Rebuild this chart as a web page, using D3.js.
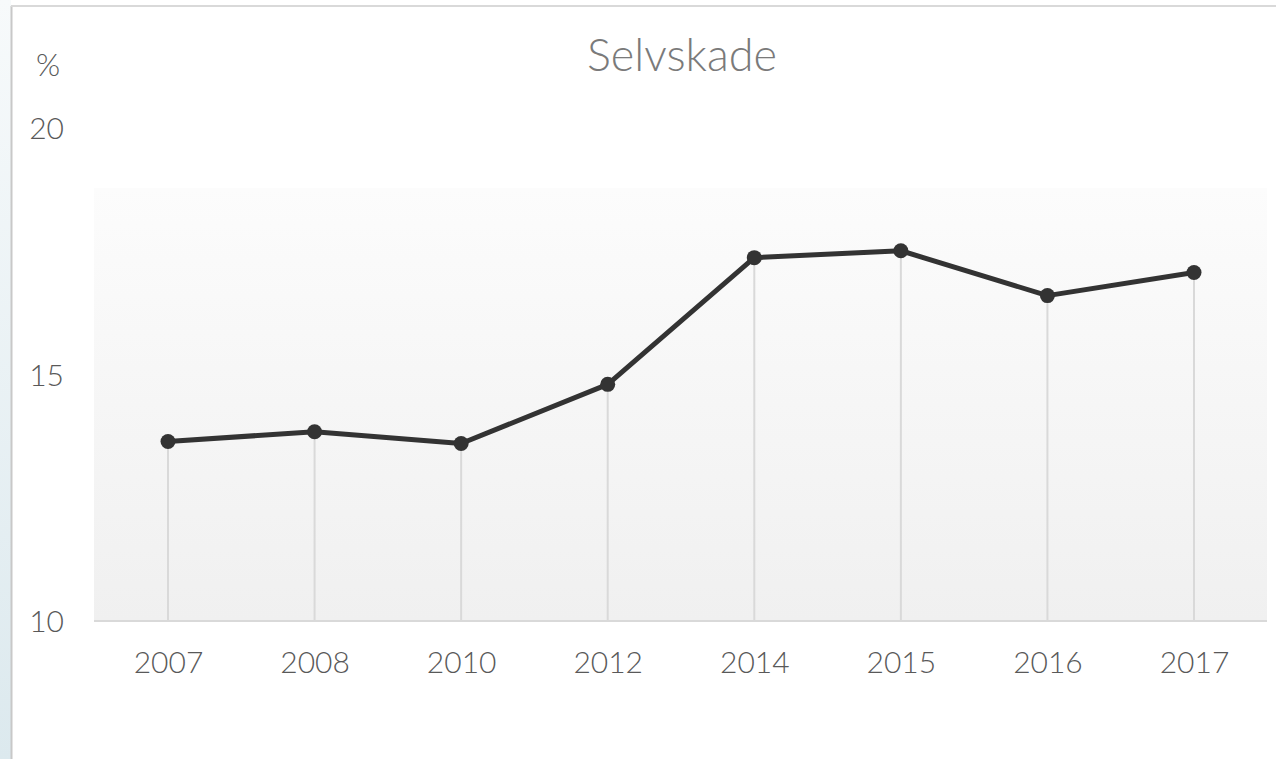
<!DOCTYPE html>
<meta charset="utf-8">
<style>
  body { margin: 0; background: #fff; }
  svg { display: block; font-family: 'Lato', 'Open Sans', sans-serif; }
  .tick text { fill: #595959; font-size: 30px; font-weight: 300; font-family: 'Lato', 'Open Sans', sans-serif; }
  .domain { display: none; }
  .tick line { display: none; }
</style>
<script src="https://d3js.org/d3.v7.min.js"></script>
<div id="chart"></div>
<script>
  // data
  const years = ["2007", "2008", "2010", "2012", "2014", "2015", "2016", "2017"];
  const values = [13.64, 13.84, 13.6, 14.8, 17.37, 17.51, 16.6, 17.07];
  const yTicks = [10, 15, 20];

  const W = 1276, H = 759;
  const svg = d3.select("#chart").append("svg")
    .attr("width", W).attr("height", H);

  const defs = svg.append("defs");
  const side = defs.append("linearGradient").attr("id", "side")
    .attr("x1", 0).attr("y1", 0).attr("x2", 0).attr("y2", 1);
  side.append("stop").attr("offset", "0%").attr("stop-color", "#f7fafb");
  side.append("stop").attr("offset", "100%").attr("stop-color", "#dce9ee");

  const plotBg = defs.append("linearGradient").attr("id", "plotBg")
    .attr("x1", 0).attr("y1", 0).attr("x2", 0).attr("y2", 1);
  plotBg.append("stop").attr("offset", "0%").attr("stop-color", "#fcfcfc");
  plotBg.append("stop").attr("offset", "100%").attr("stop-color", "#f0f0f0");

  // outer frame
  svg.append("rect").attr("x", 0).attr("y", 0).attr("width", 11).attr("height", H)
    .attr("fill", "url(#side)");
  svg.append("line").attr("x1", 11.5).attr("x2", 11.5).attr("y1", 6).attr("y2", H)
    .attr("stroke", "#c8c8c8").attr("stroke-width", 2);
  svg.append("line").attr("x1", 11).attr("x2", W).attr("y1", 6).attr("y2", 6)
    .attr("stroke", "#d9d9d9").attr("stroke-width", 2);

  const x = d3.scalePoint().domain(years).range([168, 1194]);
  const y = d3.scaleLinear().domain([10, 20]).range([621, 128]);

  // plot background
  svg.append("rect").attr("x", 94).attr("y", 188)
    .attr("width", 1267 - 94).attr("height", 621 - 188)
    .attr("fill", "url(#plotBg)");

  // drop lines
  svg.append("g").selectAll("line").data(values).join("line")
    .attr("x1", (d, i) => x(years[i])).attr("x2", (d, i) => x(years[i]))
    .attr("y1", d => y(d)).attr("y2", y(10))
    .attr("stroke", "#d9d9d9").attr("stroke-width", 2);

  // x axis baseline
  svg.append("line").attr("x1", 94).attr("x2", 1267)
    .attr("y1", y(10)).attr("y2", y(10))
    .attr("stroke", "#d9d9d9").attr("stroke-width", 2);

  // axes (labels only)
  svg.append("g").attr("transform", `translate(0,${y(10) + 41})`)
    .call(d3.axisBottom(x).tickSize(0).tickPadding(0))
    .selectAll("text").attr("dy", "0.35em");

  svg.append("g").attr("transform", "translate(64,0)")
    .call(d3.axisLeft(y).tickValues(yTicks).tickSize(0).tickPadding(0))
    .selectAll("text").attr("dy", "0.35em");

  // line + markers
  const line = d3.line().x((d, i) => x(years[i])).y(d => y(d));
  svg.append("path").datum(values)
    .attr("d", line).attr("fill", "none")
    .attr("stroke", "#333333").attr("stroke-width", 5)
    .attr("stroke-linejoin", "round");
  svg.append("g").selectAll("circle").data(values).join("circle")
    .attr("cx", (d, i) => x(years[i])).attr("cy", d => y(d))
    .attr("r", 7.5).attr("fill", "#333333");

  // titles
  svg.append("text").attr("x", 682).attr("y", 60)
    .attr("text-anchor", "middle").attr("dominant-baseline", "middle")
    .style("font-size", "45px").style("font-weight", 300)
    .attr("fill", "#7a7a7a").text("Selvskade");
  svg.append("text").attr("x", 48).attr("y", 68)
    .attr("text-anchor", "middle").attr("dominant-baseline", "middle")
    .style("font-size", "31px").style("font-weight", 300)
    .attr("fill", "#595959").text("%");
</script>
